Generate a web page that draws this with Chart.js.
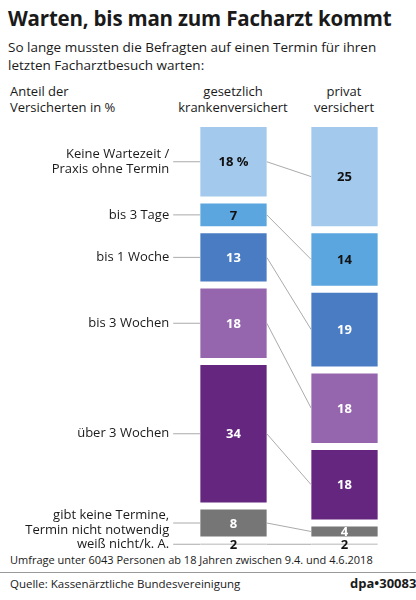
<!DOCTYPE html>
<html><head><meta charset="utf-8">
<script src="https://cdn.jsdelivr.net/npm/chart.js@4"></script>
<style>
body{margin:0;width:416px;height:600px;background:#fff;font-family:"Open Sans",sans-serif;color:#1a1a1a;position:relative;overflow:hidden}
.t{position:absolute;white-space:nowrap}
</style></head><body>
<div class="t" style="left:8px;top:4px;font-size:20.5px;font-weight:bold;letter-spacing:-0.2px">Warten, bis man zum Facharzt kommt</div>
<div class="t" style="left:8px;top:38px;font-size:13.5px;line-height:18px">So lange mussten die Befragten auf einen Termin für ihren<br>letzten Facharztbesuch warten:</div>
<div class="t" style="left:10px;top:83px;font-size:13px;line-height:16px">Anteil der<br>Versicherten in %</div>
<div class="t" style="left:233px;top:83px;font-size:13px;line-height:16px;text-align:center;transform:translateX(-50%)">gesetzlich<br>krankenversichert</div>
<div class="t" style="left:344px;top:83px;font-size:13px;line-height:16px;text-align:center;transform:translateX(-50%)">privat<br>versichert</div>
<div class="t" style="left:10px;top:552px;font-size:11px">Umfrage unter 6043 Personen ab 18 Jahren zwischen 9.4. und 4.6.2018</div>
<div style="position:absolute;left:0;top:572px;width:416px;height:1px;background:#999"></div>
<div class="t" style="left:10px;top:576px;font-size:11.5px">Quelle: Kassenärztliche Bundesvereinigung</div>
<div class="t" style="left:350px;top:574px;font-size:13px;font-weight:bold">dpa•30083</div>
<canvas id="c" width="416" height="600" style="position:absolute;left:0;top:0;width:416px;height:600px"></canvas>
<script>
const columns=["gesetzlich krankenversichert","privat versichert"];
const categories=[["Keine Wartezeit /","Praxis ohne Termin"],["bis 3 Tage"],["bis 1 Woche"],["bis 3 Wochen"],["über 3 Wochen"],["gibt keine Termine,","Termin nicht notwendig"],["weiß nicht/k. A."]];
const gesetzlich=[18,7,13,18,34,8,2];
const privat=[25,14,19,18,18,4,2];
const colors=["#a3c9ec","#5ba6df","#4a7cc4","#9566ad","#65267f","#767676","#cfcfcf"];
const textColors=["#111","#111","#fff","#fff","#fff","#fff","#111"];
const datasets=categories.map((c,i)=>({label:c.join(" "),data:[gesetzlich[i],privat[i]],backgroundColor:colors[i],
 borderColor:"#fff",borderWidth:{top:3.5,bottom:3.5,left:0,right:0},borderSkipped:false,barPercentage:1,categoryPercentage:0.6}));
const deco={id:"deco",afterDatasetsDraw(ch){
 const x=ch.ctx;x.save();
 x.strokeStyle="#aaa";x.lineWidth=1;
 categories.forEach((c,i)=>{const m=ch.getDatasetMeta(i);const a=m.data[0],b=m.data[1];
  const ya=(a.y+a.base)/2,yb=(b.y+b.base)/2;
  x.beginPath();x.moveTo(a.x+a.width/2,ya);x.lineTo(b.x-b.width/2,yb);x.stroke();
  x.beginPath();x.moveTo(a.x-a.width/2-27,ya);x.lineTo(a.x-a.width/2,ya);x.stroke();
  x.fillStyle="#1a1a1a";x.font="13px 'Open Sans'";x.textAlign="right";x.textBaseline="middle";
  const n=c.length;c.forEach((l,k)=>x.fillText(l,a.x-a.width/2-31,ya+(k-(n-1)/2)*15));
  x.font="bold 13px 'Open Sans'";x.textAlign="center";x.fillStyle=textColors[i];
  x.fillText(gesetzlich[i]+(i===0?" %":""),a.x,ya+1);x.fillText(String(privat[i]),b.x,yb+1);
 });
 x.restore();}};
new Chart(document.getElementById("c"),{type:"bar",data:{labels:columns,datasets},
 options:{responsive:false,animation:false,devicePixelRatio:1,
  layout:{padding:{left:178,right:16,top:123.5,bottom:51.5}},
  plugins:{legend:{display:false},tooltip:{enabled:false}},
  scales:{x:{stacked:true,display:false},y:{stacked:true,display:false,reverse:true,min:0,max:100}}},
 plugins:[deco]});
</script>
</body></html>
